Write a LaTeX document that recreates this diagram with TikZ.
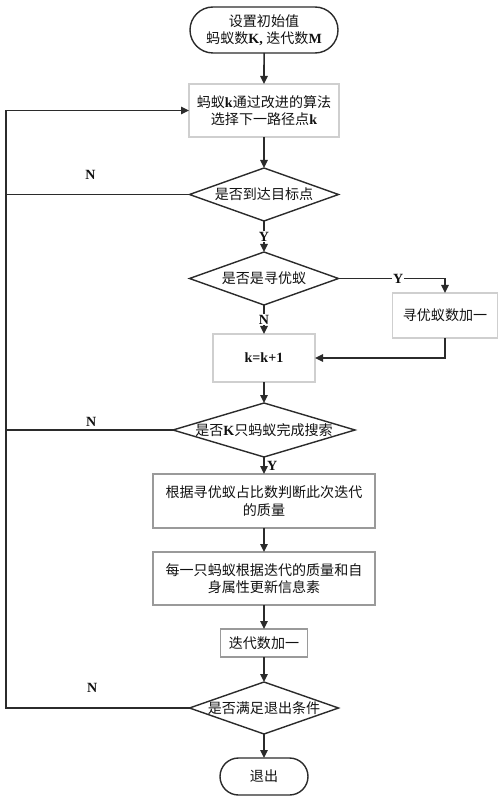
\documentclass[tikz,border=0pt]{standalone}
\usepackage{fontspec}
\setmainfont{Noto Sans CJK SC}
\newfontfamily\latfont{Liberation Serif}
\newcommand{\ltn}[1]{{\latfont\bfseries #1}}
\usepackage{xcolor}
\usepackage{tikz}
\usetikzlibrary{positioning,arrows.meta,calc,shapes.geometric,shapes.misc}
\definecolor{fcLine}{HTML}{2B2B2B}
\definecolor{fcEdge}{HTML}{9A9A9A}
\definecolor{fcPale}{HTML}{CFCFCF}
\definecolor{fcText}{HTML}{111111}

\begin{document}
\begin{tikzpicture}[
  font=\fontsize{12}{15}\selectfont,
  text=fcText,
  term/.style={
    rounded rectangle,
    draw=fcLine, line width=1.2pt,
    inner sep=0pt, outer sep=0pt, align=center
  },
  box/.style={
    rectangle, draw=fcEdge, line width=1pt,
    inner sep=0pt, outer sep=0pt, align=center
  },
  palebox/.style={box, draw=fcPale},
  cond/.style={
    diamond, draw=fcLine, line width=1.2pt,
    inner xsep=-3mm, inner ysep=0pt, outer sep=0pt, align=center
  },
  flow/.style={
    -{Triangle[length=2.4mm,width=2.2mm]},
    draw=fcLine, line width=1.3pt
  },
  back/.style={draw=fcLine, line width=1.3pt},
  yn/.style={font=\latfont\bfseries\fontsize{12}{14}\selectfont, inner sep=1pt}
]
\useasboundingbox (0,0) rectangle (15.03,-24);

% ---- main column ----------------------------------------------------------
\node[term, minimum width=4.44cm, minimum height=1.38cm] (start) at (7.92,-0.9)
  {设置初始值\\蚂蚁数\ltn{K, }迭代数\ltn{M}};

\node[palebox, minimum width=4.5cm, minimum height=1.59cm, below=0.93cm of start] (pick)
  {蚂蚁\ltn{k}通过改进的算法\\选择下一路径点\ltn{k}};

\node[cond, shape aspect=2.81, minimum width=4.47cm, minimum height=1.59cm,
  below=0.93cm of pick] (goal) {是否到达目标点};

\node[cond, shape aspect=2.81, minimum width=4.47cm, minimum height=1.59cm,
  below=0.93cm of goal] (seek) {是否是寻优蚁};

\node[palebox, minimum width=3.06cm, minimum height=1.44cm, below=0.87cm of seek] (incr)
  {\ltn{k=k+1}};

\node[cond, shape aspect=3.37, minimum width=5.46cm, minimum height=1.62cm,
  below=0.63cm of incr] (done) {是否\ltn{K}只蚂蚁完成搜索};

\node[box, minimum width=6.66cm, minimum height=1.62cm, below=0.51cm of done] (qual)
  {根据寻优蚁占比数判断此次迭代\\的质量};

\node[box, minimum width=6.66cm, minimum height=1.59cm, below=0.72cm of qual] (upd)
  {每一只蚂蚁根据迭代的质量和自\\身属性更新信息素};

\node[box, minimum width=2.61cm, minimum height=0.84cm, below=0.72cm of upd] (iter)
  {迭代数加一};

\node[cond, shape aspect=2.81, minimum width=4.47cm, minimum height=1.56cm,
  below=0.75cm of iter] (quit) {是否满足退出条件};

\node[term, minimum width=2.64cm, minimum height=1.11cm, below=0.72cm of quit] (stop)
  {退出};

% ---- side box -------------------------------------------------------------
\node[palebox, minimum width=3.15cm, minimum height=1.35cm,
  right=1.62cm of seek, yshift=-1.11cm] (cnt) {寻优蚁数加一};

\coordinate (lft) at (0.18,0);

% ---- arrows ---------------------------------------------------------------
\draw[flow] (start) -- (pick);
\draw[flow] (pick)  -- (goal);
\draw[flow] (goal)  -- node[yn, fill=white] {Y} (seek);
\draw[flow] (seek)  -- node[yn, fill=white] {N} (incr);
\draw[flow] (seek.east) -| node[yn, fill=white, pos=0.28] {Y} (cnt.north);
\draw[flow] (cnt.south) |- (incr.east);
\draw[flow] (incr)  -- (done);
\draw[flow] (done)  -- node[yn, right=1pt] {Y} (qual);
\draw[flow] (qual)  -- (upd);
\draw[flow] (upd)   -- (iter);
\draw[flow] (iter)  -- (quit);
\draw[flow] (quit)  -- (stop);

% ---- loop back ------------------------------------------------------------
\draw[back] (goal.west) -- node[yn, pos=0.54, above=4mm] {N} (goal.west -| lft);
\draw[back] (done.west) -- node[yn, pos=0.49, above=1pt] {N} (done.west -| lft);
\draw[flow] (quit.west) -- node[yn, pos=0.53, above=4mm] {N} (quit.west -| lft)
  -- (pick.west -| lft) -- (pick.west);

\end{tikzpicture}
\end{document}
